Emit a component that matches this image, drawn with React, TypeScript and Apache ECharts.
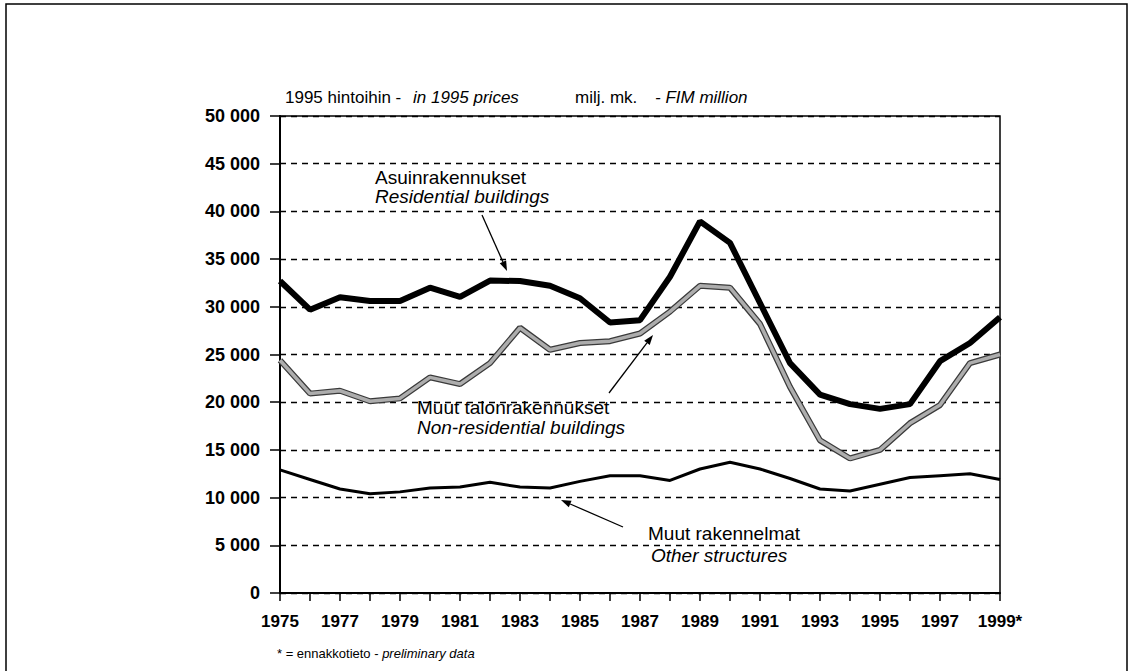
import React, { useEffect, useRef } from "react";
import * as echarts from "echarts";

const years = [
  "1975", "1976", "1977", "1978", "1979", "1980", "1981", "1982", "1983", "1984",
  "1985", "1986", "1987", "1988", "1989", "1990", "1991", "1992", "1993", "1994",
  "1995", "1996", "1997", "1998", "1999*",
];

const residential = [
  32700, 29700, 31000, 30600, 30600, 32000, 31050, 32750, 32700, 32200,
  30900, 28350, 28600, 33150, 38950, 36700, 30400, 24100, 20800, 19800,
  19300, 19800, 24300, 26200, 28900,
];

const nonResidential = [
  24400, 20900, 21200, 20100, 20400, 22600, 21900, 24100, 27800, 25500,
  26200, 26400, 27200, 29500, 32200, 32000, 28200, 21600, 16000, 14100,
  15000, 17800, 19700, 24100, 25000,
];

const otherStructures = [
  12900, 11900, 10900, 10400, 10600, 11000, 11100, 11600, 11100, 11000,
  11700, 12300, 12300, 11800, 13000, 13700, 13000, 12000, 10900, 10700,
  11400, 12100, 12300, 12500, 11900,
];

const FONT = "Arial, 'Liberation Sans', Helvetica, sans-serif";

function arrow(x1: number, y1: number, x2: number, y2: number) {
  const ang = Math.atan2(y2 - y1, x2 - x1);
  const len = 10;
  const w = 3.5;
  const bx = x2 - len * Math.cos(ang);
  const by = y2 - len * Math.sin(ang);
  const px = -Math.sin(ang) * w;
  const py = Math.cos(ang) * w;
  return [
    {
      type: "line",
      shape: { x1, y1, x2: bx, y2: by },
      style: { stroke: "#000", lineWidth: 1.3 },
    },
    {
      type: "polygon",
      shape: { points: [[x2, y2], [bx + px, by + py], [bx - px, by - py]] },
      style: { fill: "#000" },
    },
  ];
}

function txt(x: number, y: number, text: string, size: number, italic = false) {
  return {
    type: "text",
    x,
    y,
    style: {
      text,
      fill: "#000",
      font: `${italic ? "italic " : ""}${size}px ${FONT}`,
      verticalAlign: "middle",
      align: "left",
    },
  };
}

export default function App() {
  const ref = useRef<HTMLDivElement>(null);

  useEffect(() => {
    if (!ref.current) return;
    const chart = echarts.init(ref.current, null, { renderer: "svg" });
    chart.setOption({
      animation: false,
      backgroundColor: "#fff",
      grid: {
        left: 280,
        right: 132,
        top: 116,
        bottom: 78,
        show: true,
        borderColor: "#000",
        borderWidth: 1.5,
      },
      xAxis: {
        type: "category",
        data: years,
        boundaryGap: false,
        axisLine: { lineStyle: { color: "#000", width: 2 } },
        axisTick: { show: true, interval: 0, length: 8, lineStyle: { color: "#000", width: 1.5 } },
        axisLabel: {
          interval: 1,
          color: "#000",
          fontFamily: FONT,
          fontSize: 17,
          fontWeight: "bold",
          margin: 20,
        },
        splitLine: { show: false },
      },
      yAxis: {
        type: "value",
        min: 0,
        max: 50000,
        interval: 5000,
        axisLine: { show: true, lineStyle: { color: "#000", width: 2 } },
        axisTick: { show: true, length: 10, lineStyle: { color: "#000", width: 1.5 } },
        axisLabel: {
          color: "#000",
          fontFamily: FONT,
          fontSize: 18,
          fontWeight: "bold",
          margin: 20,
          formatter: (v: number) => (v === 0 ? "0" : `${v / 1000} 000`),
        },
        splitLine: { show: true, lineStyle: { color: "#000", width: 1.3, type: [6, 5] } },
      },
      series: [
        {
          name: "Asuinrakennukset",
          type: "line",
          data: residential,
          symbol: "none",
          lineStyle: { color: "#000", width: 6 },
          z: 5,
        },
        {
          name: "Muut talonrakennukset (outline)",
          type: "line",
          data: nonResidential,
          symbol: "none",
          lineStyle: { color: "#3a3a3a", width: 6 },
          z: 3,
        },
        {
          name: "Muut talonrakennukset",
          type: "line",
          data: nonResidential,
          symbol: "none",
          lineStyle: { color: "#adadad", width: 3.5 },
          z: 4,
        },
        {
          name: "Muut rakennelmat",
          type: "line",
          data: otherStructures,
          symbol: "none",
          lineStyle: { color: "#000", width: 3 },
          z: 5,
        },
      ],
      graphic: [
        {
          type: "polyline",
          shape: { points: [[6, 671], [6, 4], [1127, 4], [1127, 671]] },
          style: { stroke: "#000", lineWidth: 1.5, fill: "none" },
        },
        txt(285, 97, "1995 hintoihin - ", 17),
        txt(413, 97, "in 1995 prices", 17, true),
        txt(575, 97, "milj. mk.", 17),
        txt(655, 97, "- FIM million", 17, true),
        txt(375, 177, "Asuinrakennukset", 19),
        txt(375, 196, "Residential buildings", 19, true),
        txt(417, 407, "Muut talonrakennukset", 19),
        txt(417, 427, "Non-residential buildings", 19, true),
        txt(648, 533, "Muut rakennelmat", 19),
        txt(651, 555, "Other structures", 19, true),
        ...arrow(482, 215, 507, 271),
        ...arrow(609, 393, 653, 335),
        ...arrow(623, 527, 561, 500),
        {
          type: "text",
          x: 277,
          y: 653,
          style: {
            text: "* = ennakkotieto - {i|preliminary data}",
            fill: "#000",
            font: `13px ${FONT}`,
            verticalAlign: "middle",
            rich: { i: { fontStyle: "italic", fontSize: 13, fontFamily: FONT } },
          },
        },
      ],
    });
    return () => chart.dispose();
  }, []);

  return (
    <div
      ref={ref}
      style={{ position: "fixed", left: 0, top: 0, width: 1132, height: 671, background: "#fff" }}
    />
  );
}
